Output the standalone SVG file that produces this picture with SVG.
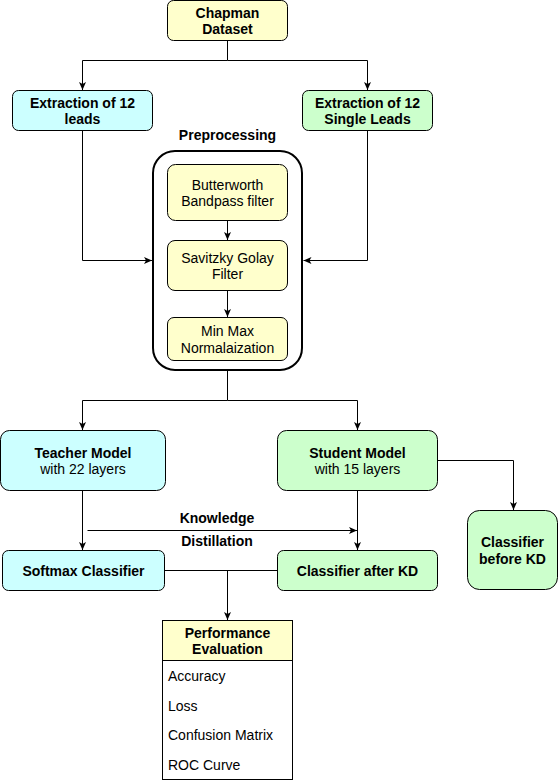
<svg xmlns="http://www.w3.org/2000/svg" width="558" height="781" viewBox="0 0 558 781">
  <defs>
    <marker id="arrow" markerUnits="userSpaceOnUse" markerWidth="10" markerHeight="8" refX="8" refY="3.5" orient="auto">
      <path d="M0,0 L8,3.5 L0,7 L2,3.5 Z" fill="#000"/>
    </marker>
    <style>
      text { font-family: "Liberation Sans", Arial, Helvetica, sans-serif; font-size: 14px; fill: #000; }
      .c { text-anchor: middle; }
      .b { font-weight: bold; }
      .box { stroke: #000; stroke-width: 1; }
      .yellow { fill: #ffffcc; }
      .cyan { fill: #ccffff; }
      .green { fill: #ccffcc; }
      .edge { fill: none; stroke: #000; stroke-width: 1; }
      .arr { marker-end: url(#arrow); }
    </style>
  </defs>
  <rect width="558" height="781" fill="#fff"/>

  <!-- preprocessing container sits underneath its inner steps and arrows -->
  <g id="preprocessing">
    <text class="c b" x="227.5" y="140">Preprocessing</text>
    <rect x="153" y="151" width="149" height="219" rx="22" fill="none" stroke="#000" stroke-width="2"/>
  </g>

  <!-- connectors -->
  <g id="connectors">
    <path class="edge arr" d="M227.5 40.5 V60.5 H82.5 V90"/>
    <path class="edge arr" d="M227.5 60.5 H367.5 V90"/>
    <path class="edge arr" d="M82.5 130.5 V260.5 H152"/>
    <path class="edge arr" d="M367.5 130.5 V260.5 H303.5"/>
    <path class="edge arr" d="M227.5 220.5 V240"/>
    <path class="edge arr" d="M227.5 290.5 V317"/>
    <path class="edge arr" d="M227.5 371 V400.5 H82.5 V430"/>
    <path class="edge arr" d="M227.5 400.5 H357.5 V430"/>
    <path class="edge arr" d="M82.5 490.5 V550"/>
    <path class="edge arr" d="M87.5 530.5 H357"/>
    <path class="edge arr" d="M357.5 490.5 V550"/>
    <path class="edge arr" d="M437.5 460.5 H513.5 V510"/>
    <path class="edge" d="M164.5 570.5 H277.5"/>
    <path class="edge arr" d="M227.5 570.5 V620"/>
    <text class="c b" x="217" y="523">Knowledge</text>
    <text class="c b" x="217" y="546">Distillation</text>
  </g>

  <g id="chapman">
    <rect class="box yellow" x="167.5" y="0.5" width="120" height="40" rx="6"/>
    <text class="c b" x="227.5" y="17.5">Chapman</text>
    <text class="c b" x="227.5" y="34.3">Dataset</text>
  </g>

  <g id="extract-12">
    <rect class="box cyan" x="12.5" y="90.5" width="140" height="40" rx="6"/>
    <text class="c b" x="82.5" y="107.5">Extraction of 12</text>
    <text class="c b" x="82.5" y="124.3">leads</text>
  </g>

  <g id="extract-single">
    <rect class="box green" x="302.5" y="90.5" width="130" height="40" rx="6"/>
    <text class="c b" x="367.5" y="107.5">Extraction of 12</text>
    <text class="c b" x="367.5" y="124.3">Single Leads</text>
  </g>

  <g id="butterworth">
    <rect class="box yellow" x="167.5" y="164.5" width="120" height="56" rx="8"/>
    <text class="c" x="227.5" y="189.5">Butterworth</text>
    <text class="c" x="227.5" y="206.3">Bandpass filter</text>
  </g>

  <g id="savitzky">
    <rect class="box yellow" x="167.5" y="240.5" width="120" height="50" rx="7.5"/>
    <text class="c" x="227.5" y="262.5">Savitzky Golay</text>
    <text class="c" x="227.5" y="279.3">Filter</text>
  </g>

  <g id="minmax">
    <rect class="box yellow" x="167.5" y="317.5" width="120" height="43" rx="6.5"/>
    <text class="c" x="227.5" y="336">Min Max</text>
    <text class="c" x="227.5" y="352.8">Normalaization</text>
  </g>

  <g id="teacher">
    <rect class="box cyan" x="0.5" y="430.5" width="165" height="60" rx="9"/>
    <text class="c b" x="83" y="457.5">Teacher Model</text>
    <text class="c" x="83" y="474.3">with 22 layers</text>
  </g>

  <g id="student">
    <rect class="box green" x="277.5" y="430.5" width="160" height="60" rx="9"/>
    <text class="c b" x="357.5" y="457.5">Student Model</text>
    <text class="c" x="357.5" y="474.3">with 15 layers</text>
  </g>

  <g id="softmax">
    <rect class="box cyan" x="2.5" y="550.5" width="162" height="40" rx="6"/>
    <text class="c b" x="83.5" y="575.5">Softmax Classifier</text>
  </g>

  <g id="after-kd">
    <rect class="box green" x="277.5" y="550.5" width="160" height="40" rx="6"/>
    <text class="c b" x="357.5" y="575.5">Classifier after KD</text>
  </g>

  <g id="before-kd">
    <rect class="box green" x="467.5" y="510.5" width="90" height="79" rx="12"/>
    <text class="c b" x="512.5" y="547">Classifier</text>
    <text class="c b" x="512.5" y="563.8">before KD</text>
  </g>

  <g id="evaluation">
    <rect class="box" x="162.5" y="620.5" width="130" height="159" fill="#fff"/>
    <rect class="box yellow" x="162.5" y="620.5" width="130" height="40"/>
    <text class="c b" x="227.5" y="637.5">Performance</text>
    <text class="c b" x="227.5" y="654.3">Evaluation</text>
    <text x="168" y="680.5">Accuracy</text>
    <text x="168" y="710.5">Loss</text>
    <text x="168" y="740">Confusion Matrix</text>
    <text x="168" y="769.5">ROC Curve</text>
  </g>
</svg>
